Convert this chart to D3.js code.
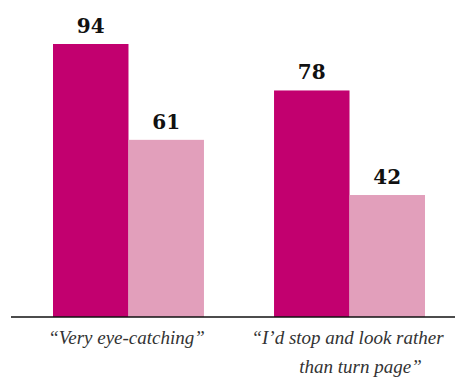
<!DOCTYPE html>
<html lang="en">
<head>
<meta charset="utf-8">
<title>eye-catching</title>
<script src="https://d3js.org/d3.v7.min.js"></script>
<style>
body{margin:0;background:#fff;}
.val{font-family:'DejaVu Serif','Liberation Serif',serif;font-weight:bold;font-size:20px;}
.cat{font-family:'Liberation Serif','Times New Roman',serif;font-style:italic;font-size:19px;}
</style>
</head>
<body>
<div id="chart"></div>
<script>
// data
var categories = ["“Very eye-catching”", "“I’d stop and look rather|than turn page”"]
var seriesA = [94, 78]
var seriesB = [61, 42]

var w = 455, h = 378
var baseY = 317

var svg = d3.select("#chart").append("svg")
    .attr("width", w).attr("height", h)

var yScale = d3.scaleLinear().domain([0, 94]).range([baseY, 44])
var xGroup = d3.scaleBand().domain(d3.range(categories.length)).range([53, 425]).paddingInner(0.317)
var xInner = d3.scaleBand().domain([0, 1]).range([0, xGroup.bandwidth()])
var colors = ["#c2006f", "#e29fbb"]

var rows = []
categories.forEach(function(c, i){
    rows.push({g: i, s: 0, v: seriesA[i]})
    rows.push({g: i, s: 1, v: seriesB[i]})
})

svg.selectAll("rect").data(rows).enter().append("rect")
    .attr("x", function(d){ return xGroup(d.g) + xInner(d.s) })
    .attr("y", function(d){ return yScale(d.v) })
    .attr("width", xInner.bandwidth())
    .attr("height", function(d){ return baseY - yScale(d.v) })
    .attr("fill", function(d){ return colors[d.s] })

svg.selectAll("text.val").data(rows).enter().append("text")
    .attr("class", "val")
    .attr("x", function(d){ return xGroup(d.g) + xInner(d.s) + xInner.bandwidth()/2 })
    .attr("y", function(d){ return yScale(d.v) - 11 })
    .attr("text-anchor", "middle")
    .attr("fill", "#111")
    .text(function(d){ return d.v })

// baseline
svg.append("line")
    .attr("x1", 11).attr("x2", w)
    .attr("y1", baseY).attr("y2", baseY)
    .attr("stroke", "#111").attr("stroke-width", 1.5)

// category labels
var labs = svg.selectAll("text.cat").data(categories).enter().append("text")
    .attr("class", "cat")
    .attr("text-anchor", "middle")
    .attr("fill", "#333")

labs.each(function(c, i){
    var lines = c.split("|")
    var cx = xGroup(i) + xGroup.bandwidth()/2
    d3.select(this).selectAll("tspan").data(lines).enter().append("tspan")
        .attr("x", function(l, j){ return j == 0 ? cx - 2 : cx + 11 })
        .attr("y", function(l, j){ return 344 + j*29 })
        .text(function(l){ return l })
})
</script>
</body>
</html>
